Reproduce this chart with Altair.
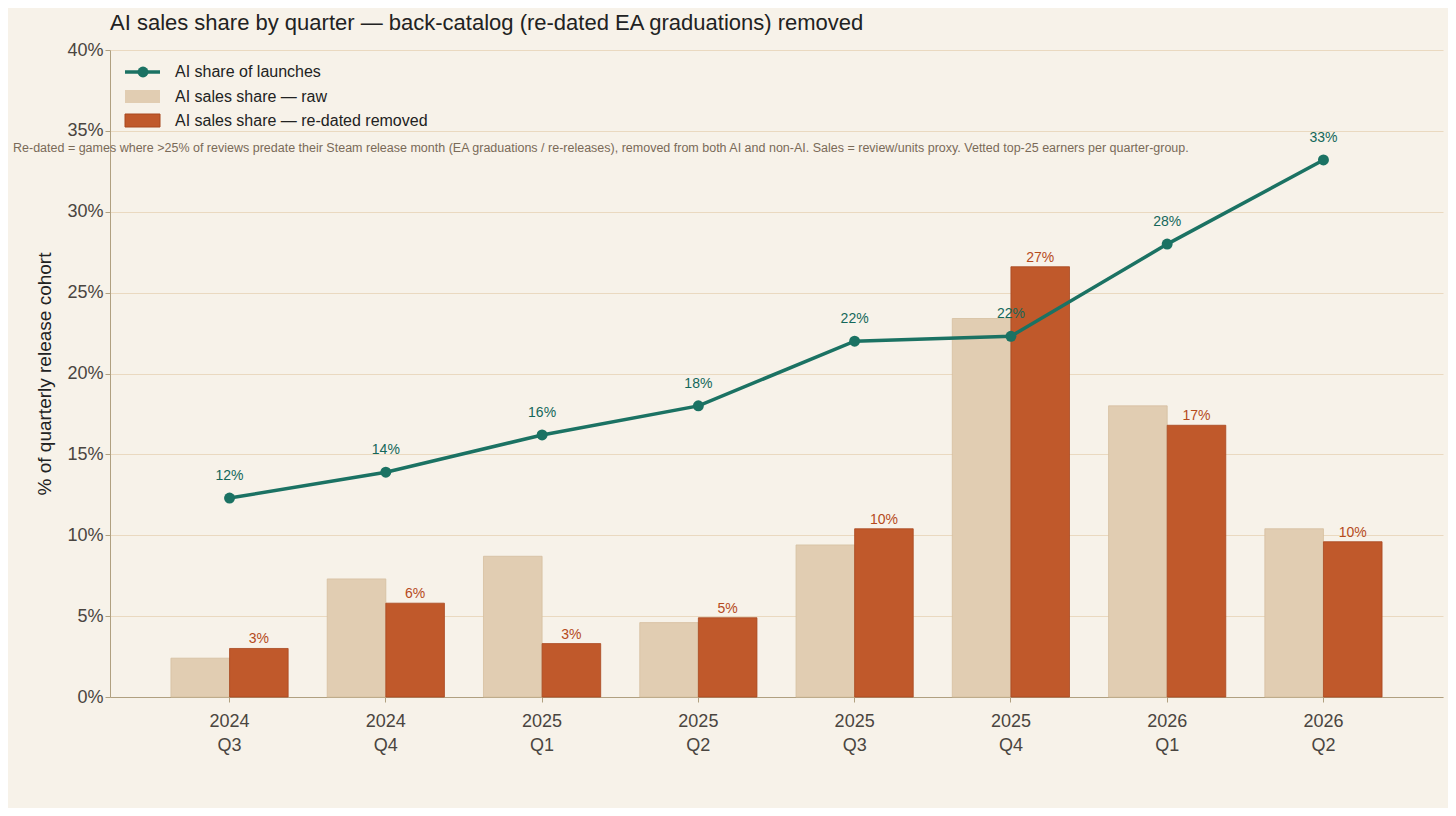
import altair as alt
import pandas as pd

quarters = ["2024 Q3", "2024 Q4", "2025 Q1", "2025 Q2", "2025 Q3", "2025 Q4", "2026 Q1", "2026 Q2"]
raw_share = [2.4, 7.3, 8.7, 4.6, 9.4, 23.4, 18.0, 10.4]
removed_share = [3.0, 5.8, 3.3, 4.9, 10.4, 26.6, 16.8, 9.6]
launch_share = [12.3, 13.9, 16.2, 18.0, 22.0, 22.3, 28.0, 33.2]

S_RAW = "AI sales share — raw"
S_REM = "AI sales share — re-dated removed"
S_LINE = "AI share of launches"

BG = "#f7f2e9"
C_RAW = "#e1cdb2"
C_REM = "#c0592b"
C_LINE = "#1b7263"
TXT = "#4a4540"

bars = pd.DataFrame(
    [{"q": q, "series": S_RAW, "v": r / 100} for q, r in zip(quarters, raw_share)]
    + [{"q": q, "series": S_REM, "v": r / 100} for q, r in zip(quarters, removed_share)]
)
rem = pd.DataFrame({"q": quarters, "series": S_REM, "v": [r / 100 for r in removed_share],
                    "lab": [f"{round(r)}%" for r in removed_share]})
line = pd.DataFrame({"q": quarters, "v": [r / 100 for r in launch_share],
                     "lab": [f"{round(r)}%" for r in launch_share]})

xscale = alt.Scale(domain=quarters, paddingInner=0.25, paddingOuter=0.39)
x = alt.X("q:N", scale=xscale, sort=quarters, title=None,
          axis=alt.Axis(labelAngle=0, labelExpr="split(datum.label, ' ')", labelFontSize=18,
                        labelColor=TXT, labelPadding=10, domainColor="#b0a080", ticks=True,
                        tickColor="#b0a080", labelLineHeight=24))
yscale = alt.Scale(domain=[0, 0.4])
y = alt.Y("v:Q", scale=yscale, title="% of quarterly release cohort",
          axis=alt.Axis(format=".0%", values=[i / 20 for i in range(9)], labelFontSize=18,
                        labelColor=TXT, titleFontSize=19, titleFontWeight="normal", titleColor="#222",
                        gridColor="#ead9c0", domainColor="#b0a080", tickColor="#b0a080",
                        titlePadding=12))
color = alt.Color("series:N", scale=alt.Scale(domain=[S_RAW, S_REM], range=[C_RAW, C_REM]), legend=None)
stroke = alt.Stroke("series:N", scale=alt.Scale(domain=[S_RAW, S_REM], range=["#d6bf9f", "#a8481f"]), legend=None)

bar_layer = alt.Chart(bars).mark_bar(strokeWidth=0.8).encode(
    x=x, y=y, color=color, stroke=stroke,
    xOffset=alt.XOffset("series:N", scale=alt.Scale(domain=[S_RAW, S_REM])))
bar_text = alt.Chart(rem).mark_text(dy=-9, fontSize=14, color="#b54a1c").encode(
    x=alt.X("q:N", scale=xscale, sort=quarters),
    xOffset=alt.XOffset("series:N", scale=alt.Scale(domain=[S_RAW, S_REM])),
    y=alt.Y("v:Q", scale=yscale), text="lab:N")
line_layer = alt.Chart(line).mark_line(color=C_LINE, strokeWidth=3.5,
                                       point=alt.OverlayMarkDef(color=C_LINE, size=120, filled=True, opacity=1)).encode(
    x=alt.X("q:N", scale=xscale, sort=quarters), y=alt.Y("v:Q", scale=yscale))
line_text = alt.Chart(line).mark_text(dy=-22, fontSize=14, color="#14675a").encode(
    x=alt.X("q:N", scale=xscale, sort=quarters), y=alt.Y("v:Q", scale=yscale), text="lab:N")

one = pd.DataFrame({"a": [0]})
title = alt.Chart(one).mark_text(align="left", baseline="middle", fontSize=22, color="#222",
                                 text="AI sales share by quarter — back-catalog (re-dated EA graduations) removed").encode(
    x=alt.value(0), y=alt.value(-27))
foot = alt.Chart(one).mark_text(align="left", baseline="middle", fontSize=12.5, color="#7a6a58",
    text="Re-dated = games where >25% of reviews predate their Steam release month (EA graduations / re-releases), removed from both AI and non-AI. Sales = review/units proxy. Vetted top-25 earners per quarter-group.").encode(
    x=alt.value(-97), y=alt.value(98))

leg_line = alt.Chart(one).mark_rule(color=C_LINE, strokeWidth=3.5).encode(
    x=alt.value(15), x2=alt.value(50), y=alt.value(22))
leg_pt = alt.Chart(one).mark_point(color=C_LINE, filled=True, size=120, opacity=1).encode(
    x=alt.value(33), y=alt.value(22))
leg_r1 = alt.Chart(one).mark_rect(color=C_RAW).encode(
    x=alt.value(15), x2=alt.value(50), y=alt.value(40), y2=alt.value(53))
leg_r2 = alt.Chart(one).mark_rect(color=C_REM, stroke="#a8481f").encode(
    x=alt.value(15), x2=alt.value(50), y=alt.value(64), y2=alt.value(77))
leg_t = [alt.Chart(one).mark_text(align="left", baseline="middle", fontSize=16, color="#222", text=t).encode(
    x=alt.value(65), y=alt.value(yy)) for t, yy in [(S_LINE, 22), (S_RAW, 47), (S_REM, 71)]]

chart = alt.layer(bar_layer, bar_text, line_layer, line_text, title, foot,
                  leg_line, leg_pt, leg_r1, leg_r2, *leg_t).properties(
    width=1333, height=647, background=BG,
    autosize=alt.AutoSizeParams(type="none"),
    padding={"left": 102, "top": 42, "right": 5, "bottom": 111},
).configure_view(stroke=None).configure_axisY(domain=True).configure_axisX(grid=False)

chart.save("out.html", embed_options={"renderer": "svg", "actions": False})
